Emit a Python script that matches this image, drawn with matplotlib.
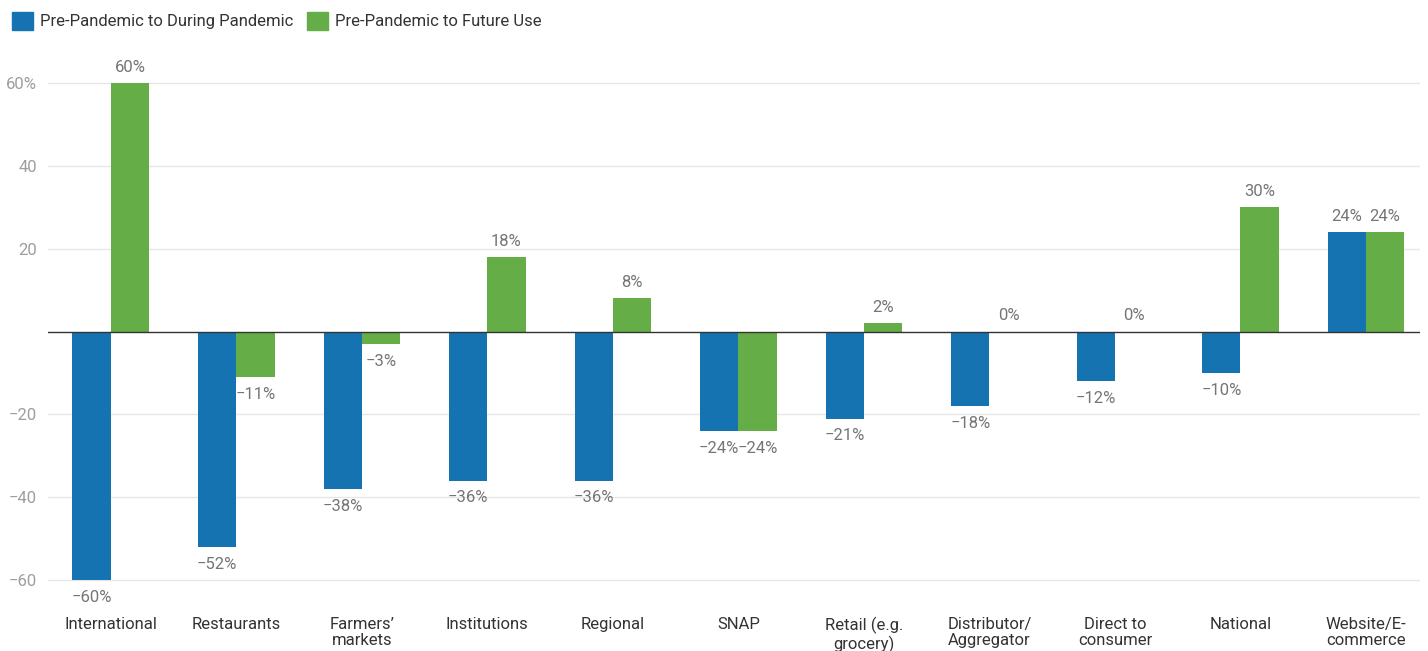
import matplotlib.pyplot as plt
import numpy as np
from matplotlib.patches import Patch

plt.rcParams['font.family'] = ['Roboto', 'DejaVu Sans']

categories = ['International', 'Restaurants', 'Farmers\u2019\nmarkets', 'Institutions',
              'Regional', 'SNAP', 'Retail (e.g.\ngrocery)', 'Distributor/\nAggregator',
              'Direct to\nconsumer', 'National', 'Website/E-\ncommerce']
during = [-60, -52, -38, -36, -36, -24, -21, -18, -12, -10, 24]
future = [60, -11, -3, 18, 8, -24, 2, 0, 0, 30, 24]
series_names = ['Pre-Pandemic to During Pandemic', 'Pre-Pandemic to Future Use']
colors = ['#1473b0', '#65ad47']

fig = plt.figure(figsize=(14.28, 6.51), dpi=100)
ax = fig.add_axes([48 / 1428, 1 - 600 / 651, (1420 - 48) / 1428, 550 / 651])

x = np.arange(len(categories))
w = 0.305
for vals, off, c in [(during, -w / 2, colors[0]), (future, w / 2, colors[1])]:
    ax.bar(x + off, vals, width=w, color=c, zorder=3)
    for xi, v in zip(x, vals):
        if v >= 0:
            ax.text(xi + off, v + 2, f'{v}%', ha='center', va='bottom',
                    fontsize=12, color='#757575')
        else:
            ax.text(xi + off, v - 2.3, f'\u2212{abs(v)}%', ha='center', va='top',
                    fontsize=12, color='#757575')

ax.set_xlim(-0.5, 10.43)
ax.set_ylim(-64.8, 68)
ax.set_yticks([-60, -40, -20, 20, 40, 60])
ax.set_yticklabels(['\u221260', '\u221240', '\u221220', '20', '40', '60%'])
ax.grid(axis='y', color='#e6e6e6', linewidth=1, zorder=0)
ax.axhline(0, color='#333333', linewidth=1, zorder=4)
for s in ax.spines.values():
    s.set_visible(False)
ax.tick_params(axis='y', length=0, labelsize=12, labelcolor='#9e9e9e', pad=8)
ax.tick_params(axis='x', length=0, labelsize=12, labelcolor='#333333', pad=12)
ax.set_xticks(x)
ax.set_xticklabels(categories, linespacing=1.1, va='top')

handles = [Patch(color=c) for c in colors]
fig.legend(handles, series_names, loc='upper left', bbox_to_anchor=(0.0, 1.0),
           ncol=2, frameon=False, fontsize=12, handlelength=1.3, handleheight=1.3,
           handletextpad=0.4, columnspacing=0.8, borderaxespad=0.3,
           labelcolor='#333333')

fig.savefig('out.png', dpi=100)
